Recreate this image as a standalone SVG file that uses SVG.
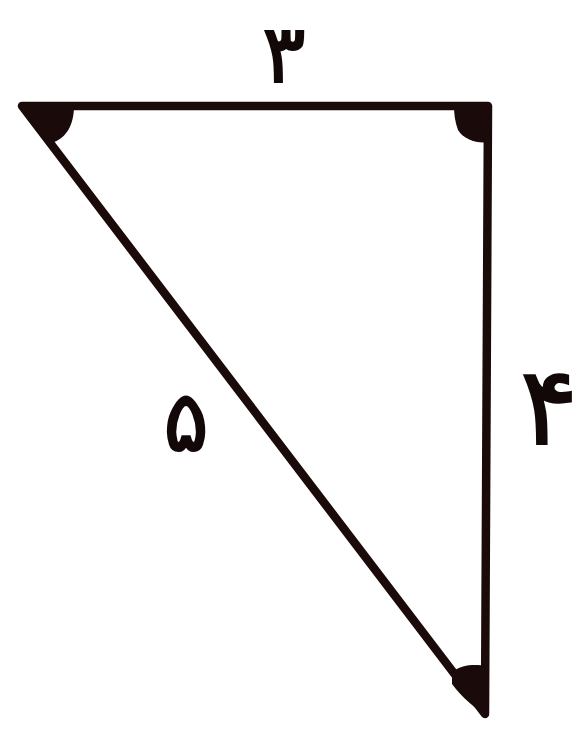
<svg xmlns="http://www.w3.org/2000/svg" width="587" height="743" viewBox="0 0 587 743">
<style>
.edge{stroke:#1a0a0a;stroke-width:8.5;stroke-linecap:round;stroke-linejoin:round;fill:none}
.mark{fill:#1a0a0a}
.lbl{font-family:"DejaVu Sans","Noto Sans",sans-serif;font-weight:normal;fill:#120808;stroke:#120808;stroke-width:2;text-anchor:middle}
</style>
<rect width="587" height="743" fill="#ffffff"/>
<g id="triangle">
<path class="edge" d="M22,106 L488,106 L485,714 Z"/>
</g>
<g id="angles">
<path class="mark" d="M20,102 L74,106 C74,125 66,138 54,142 C44,140 36,128 30,118 Z"/>
<path class="mark" d="M454,106 L490,106 L489,142 C478,144 464,140 458,130 C455,122 454,114 454,106 Z"/>
<path class="mark" d="M452,672 C462,664 476,664 486,666 L485,716 C476,708 462,698 452,684 Z"/>
</g>
<g id="labels">
<text class="lbl" x="284" y="82" font-size="80">۳</text>
<text class="lbl" x="549" y="444" font-size="108">۴</text>
<text class="lbl" x="186" y="451" font-size="84">۵</text>
</g>
</svg>
